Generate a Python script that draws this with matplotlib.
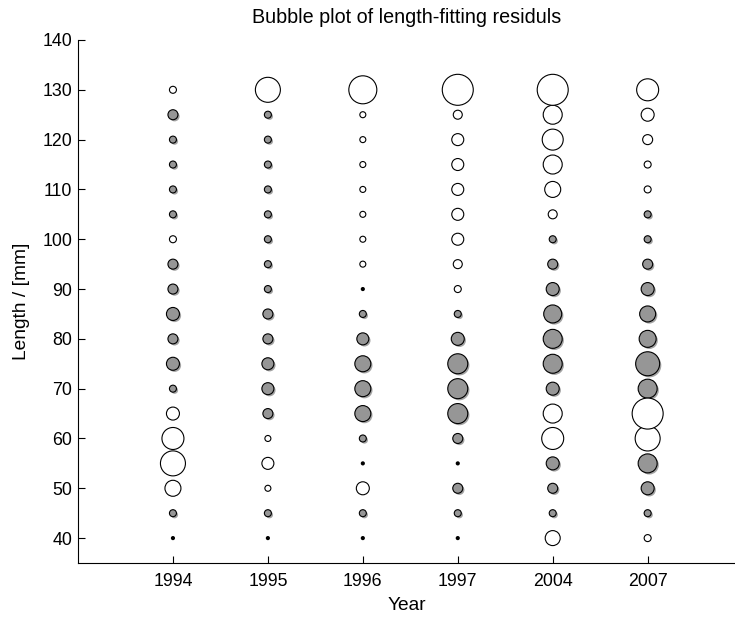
import numpy as np
import matplotlib.pyplot as plt
import matplotlib.patheffects as pe

plt.rcParams['font.family'] = ['Liberation Sans', 'DejaVu Sans']

years = ["1994", "1995", "1996", "1997", "2004", "2007"]
lengths = [40, 45, 50, 55, 60, 65, 70, 75, 80, 85, 90, 95, 100, 105, 110, 115, 120, 125, 130]

# residuals per year, from length 40 up to 130 (positive = open, negative = grey)
res_1994 = [0, -0.7, 1.6, 2.5, 2.2, 1.3, -0.7, -1.3, -1.0, -1.3, -1.0, -1.0, 0.7, -0.7, -0.7, -0.7, -0.7, -1.0, 0.7]
res_1995 = [0, -0.7, 0.6, 1.2, 0.6, -1.0, -1.2, -1.2, -1.0, -1.0, -0.7, -0.7, -0.7, -0.7, -0.7, -0.7, -0.7, -0.7, 2.5]
res_1996 = [0, -0.7, 1.3, 0, -0.7, -1.6, -1.6, -1.6, -1.2, -0.7, 0, 0.6, 0.6, 0.6, 0.6, 0.6, 0.6, 0.6, 2.8]
res_1997 = [0, -0.7, -1.0, 0, -1.0, -2.0, -2.0, -2.0, -1.3, -0.7, 0.7, 0.9, 1.2, 1.2, 1.2, 1.2, 1.2, 0.9, 3.1]
res_2004 = [1.5, -0.7, -1.0, -1.3, 2.2, 1.9, -1.3, -1.9, -1.9, -1.8, -1.3, -1.0, -0.7, 0.9, 1.6, 1.9, 2.1, 1.9, 3.1]
res_2007 = [0.7, -0.7, -1.3, -1.9, 2.5, 3.1, -1.9, -2.4, -1.7, -1.6, -1.3, -1.0, -0.7, -0.7, 0.7, 0.7, 1.0, 1.3, 2.2]

residuals = [res_1994, res_1995, res_1996, res_1997, res_2004, res_2007]


def main():
    fig = plt.figure(figsize=(7.35, 6.17), dpi=100)
    ax = fig.add_axes([78 / 735, 1 - 563 / 617, (735 - 78) / 735, (563 - 40) / 617])

    scale = 7.2  # points of diameter per residual unit
    for i, res in enumerate(residuals):
        r = np.array(res)
        y = np.array(lengths)
        x = np.full(len(y), i + 1)
        neg = r < 0
        pos = r > 0
        zero = r == 0
        sc = ax.scatter(x[neg], y[neg], s=(scale * np.abs(r[neg])) ** 2,
                        facecolor='#969696', edgecolor='black', linewidth=0.8, zorder=3)
        sc.set_path_effects([pe.SimplePatchShadow(offset=(1.2, -1.2), shadow_rgbFace='0.4', alpha=0.6),
                             pe.Normal()])
        ax.scatter(x[pos], y[pos], s=(scale * r[pos]) ** 2,
                   facecolor='white', edgecolor='black', linewidth=0.8, zorder=4)
        ax.scatter(x[zero], y[zero], s=9, facecolor='black', edgecolor='none', zorder=5)

    ax.set_xlim(0, 6.92)
    ax.set_ylim(35, 140)
    ax.set_xticks(range(1, len(years) + 1))
    ax.set_xticklabels(years)
    ax.set_yticks(range(40, 141, 10))
    ax.tick_params(direction='in', length=5, width=0.8, labelsize=12.8, pad=7)
    ax.tick_params(axis='y', pad=4)
    ax.spines['top'].set_visible(False)
    ax.spines['right'].set_visible(False)

    ax.set_xlabel("Year", fontsize=13.8, labelpad=5)
    ax.set_ylabel("Length / [mm]", fontsize=13.8, labelpad=9)
    ax.set_title("Bubble plot of length-fitting residuls", fontsize=14.2, pad=12)

    fig.savefig("out.png", dpi=100)


if __name__ == "__main__":
    main()
